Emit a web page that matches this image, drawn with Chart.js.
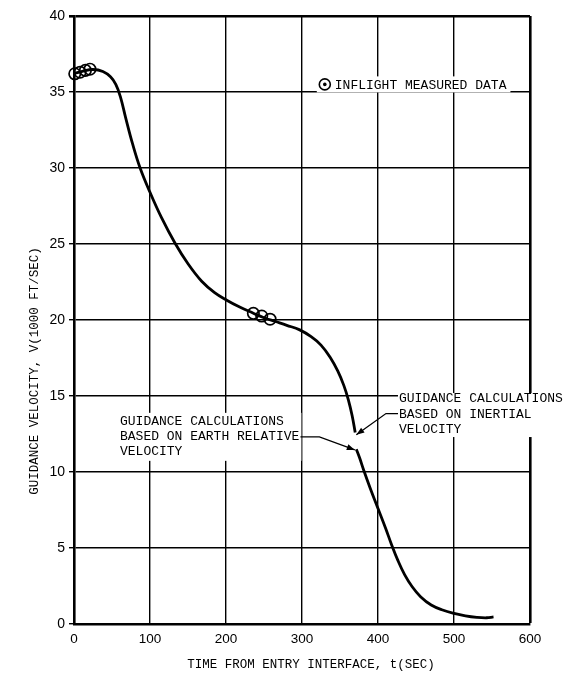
<!DOCTYPE html>
<html><head><meta charset="utf-8">
<style>html,body{margin:0;padding:0;background:#fff}#wrap{width:570px;height:673px}</style>
<script src="https://cdn.jsdelivr.net/npm/chart.js@4/dist/chart.umd.min.js"></script>
</head><body><div id="wrap"><canvas id="c" width="570" height="673"></canvas></div>
<script>
// ---- data ----
const xTicks = [0, 100, 200, 300, 400, 500, 600];
const yTicks = [0, 5, 10, 15, 20, 25, 30, 35, 40];

// guidance velocity, inertial-based part
const inertialT = [0, 12, 25, 38, 48, 55, 61, 68, 77, 87, 100, 115, 133, 150, 168, 185, 201, 218, 236, 250, 265, 280, 297, 312, 325, 337, 347, 355, 361, 366, 370];
const inertialV = [36.2, 36.38, 36.48, 36.35, 36.0, 35.5, 34.7, 33.3, 31.6, 30.0, 28.4, 26.75, 25.05, 23.7, 22.55, 21.8, 21.3, 20.85, 20.45, 20.15, 19.9, 19.65, 19.35, 18.9, 18.35, 17.55, 16.65, 15.7, 14.75, 13.7, 12.6];
// guidance velocity, earth-relative part
const earthT = [371.5, 376, 381, 390, 400, 410, 418, 426, 435, 445, 456, 470, 485, 500, 515, 530, 543, 552];
const earthV = [11.5, 10.9, 10.15, 8.9, 7.6, 6.3, 5.2, 4.2, 3.25, 2.45, 1.8, 1.25, 0.92, 0.7, 0.54, 0.44, 0.41, 0.47];
// inflight measured data
const measuredT = [1, 8, 15, 21, 236, 247, 258];
const measuredV = [36.2, 36.3, 36.42, 36.5, 20.44, 20.26, 20.05];

const xTitle = 'TIME FROM ENTRY INTERFACE, t(SEC)';
const yTitle = 'GUIDANCE VELOCITY, V(1000 FT/SEC)';
const legendText = 'INFLIGHT MEASURED DATA';
const inertialNote = ['GUIDANCE CALCULATIONS', 'BASED ON INERTIAL', 'VELOCITY'];
const earthNote = ['GUIDANCE CALCULATIONS', 'BASED ON EARTH RELATIVE', 'VELOCITY'];

// annotation anchors (data units)
const legendAt = [330, 35.5];
const inertialNoteAt = [427.6, 14.8];
const inertialTip = [371.5, 12.45];
const earthNoteAt = [60.5, 13.3];
const earthTip = [369.5, 11.45];

const pts = (t, v) => t.map((x, i) => ({x, y: v[i]}));
const MONO = '"Liberation Mono", "DejaVu Sans Mono", monospace';
const SANS = '"Liberation Sans", Arial, sans-serif';

function arrowHead(ctx, fx, fy, tx, ty) {
  const a = Math.atan2(ty - fy, tx - fx), L = 8, W = 3;
  ctx.beginPath();
  ctx.moveTo(tx, ty);
  ctx.lineTo(tx - L * Math.cos(a) + W * Math.sin(a), ty - L * Math.sin(a) - W * Math.cos(a));
  ctx.lineTo(tx - L * Math.cos(a) - W * Math.sin(a), ty - L * Math.sin(a) + W * Math.cos(a));
  ctx.closePath();
  ctx.fill();
}

const annot = {
  id: 'annot',
  afterDatasetsDraw(chart) {
    const ctx = chart.ctx, xs = chart.scales.x, ys = chart.scales.y, ca = chart.chartArea;
    const X = v => xs.getPixelForValue(v), Y = v => ys.getPixelForValue(v);
    ctx.save();
    ctx.fillStyle = '#000'; ctx.strokeStyle = '#000';
    ctx.textBaseline = 'middle'; ctx.textAlign = 'left';

    // legend
    ctx.font = '13px ' + MONO;
    let cx = X(legendAt[0]), cy = Y(legendAt[1]);
    let tw = ctx.measureText(legendText).width;
    ctx.fillStyle = '#fff';
    ctx.fillRect(cx - 8, cy - 8, tw + 22, 16);
    ctx.fillStyle = '#000';
    ctx.lineWidth = 1.6;
    ctx.beginPath(); ctx.arc(cx, cy, 5.5, 0, Math.PI * 2); ctx.stroke();
    ctx.beginPath(); ctx.arc(cx, cy, 1.8, 0, Math.PI * 2); ctx.fill();
    ctx.fillText(legendText, cx + 10, cy + 1);

    // inertial note (right)
    const lh = 15.5;
    let tx = X(inertialNoteAt[0]), ty = Y(inertialNoteAt[1]);
    let mw = Math.max(...inertialNote.map(s => ctx.measureText(s).width));
    ctx.fillStyle = '#fff';
    ctx.fillRect(tx - 1, ty - 6, mw + 4, lh * 2 + 13);
    ctx.fillStyle = '#000';
    inertialNote.forEach((s, i) => ctx.fillText(s, tx, ty + i * lh));
    ctx.lineWidth = 1.3;
    let ly = ty + lh - 1, tipx = X(inertialTip[0]), tipy = Y(inertialTip[1]);
    ctx.beginPath(); ctx.moveTo(tx - 1, ly); ctx.lineTo(tx - 13, ly); ctx.lineTo(tipx, tipy); ctx.stroke();
    arrowHead(ctx, tx - 13, ly, tipx, tipy);

    // earth relative note (left)
    tx = X(earthNoteAt[0]); ty = Y(earthNoteAt[1]);
    const lh2 = 15;
    mw = Math.max(...earthNote.map(s => ctx.measureText(s).width));
    ctx.fillStyle = '#fff';
    ctx.fillRect(tx - 2, ty - 9, mw + 4, lh2 * 2 + 18);
    ctx.fillStyle = '#000';
    earthNote.forEach((s, i) => ctx.fillText(s, tx, ty + i * lh2));
    const w2 = ctx.measureText(earthNote[1]).width;
    ly = ty + lh2; tipx = X(earthTip[0]); tipy = Y(earthTip[1]);
    ctx.beginPath(); ctx.moveTo(tx + w2 + 1, ly); ctx.lineTo(tx + w2 + 20, ly); ctx.lineTo(tipx, tipy); ctx.stroke();
    arrowHead(ctx, tx + w2 + 20, ly, tipx, tipy);

    // axis titles
    ctx.font = '12.5px ' + MONO;
    ctx.textAlign = 'center';
    ctx.fillText(xTitle, (ca.left + ca.right) / 2 + 9, ca.bottom + 41);
    ctx.translate(ca.left - 39, (ca.top + ca.bottom) / 2 + 51);
    ctx.rotate(-Math.PI / 2);
    ctx.fillText(yTitle, 0, 0);
    ctx.restore();
  }
};

const gridW = edge => c => (c.tick && c.tick.value === edge) ? 2.6 : 1.4;

new Chart(document.getElementById('c'), {
  type: 'line',
  data: {
    datasets: [
      { label: 'Inflight measured data', data: pts(measuredT, measuredV), showLine: false,
        pointRadius: 5.7, pointBorderWidth: 1.7, pointBorderColor: '#000',
        pointBackgroundColor: 'rgba(255,255,255,0)', clip: false },
      { label: 'Inertial velocity', data: pts(inertialT, inertialV), borderColor: '#000',
        borderWidth: 2.8, pointRadius: 0, tension: 0.4, fill: false },
      { label: 'Earth relative velocity', data: pts(earthT, earthV), borderColor: '#000',
        borderWidth: 2.8, pointRadius: 0, tension: 0.4, fill: false }
    ]
  },
  options: {
    responsive: false, animation: false, devicePixelRatio: 1,
    layout: { padding: { top: 16, right: 40, left: 0, bottom: 0 } },
    plugins: { legend: { display: false }, tooltip: { enabled: false } },
    scales: {
      x: {
        type: 'linear', min: 0, max: 600,
        afterBuildTicks: s => { s.ticks = xTicks.map(v => ({value: v})); },
        afterFit: s => { s.height = 49; },
        ticks: { color: '#000', font: { family: SANS, size: 13.5 }, padding: 7, maxRotation: 0, autoSkip: false },
        grid: { color: '#000', lineWidth: gridW(600), drawTicks: false },
        border: { color: '#000', width: 2.6 }
      },
      y: {
        type: 'linear', min: 0, max: 40,
        afterBuildTicks: s => { s.ticks = yTicks.map(v => ({value: v})); },
        afterFit: s => { s.width = 74; },
        ticks: { color: '#000', font: { family: SANS, size: 14 }, padding: 4, autoSkip: false },
        grid: { color: '#000', lineWidth: gridW(40), tickLength: 5 },
        border: { color: '#000', width: 2.6 }
      }
    }
  },
  plugins: [annot]
});
</script>
</body></html>
